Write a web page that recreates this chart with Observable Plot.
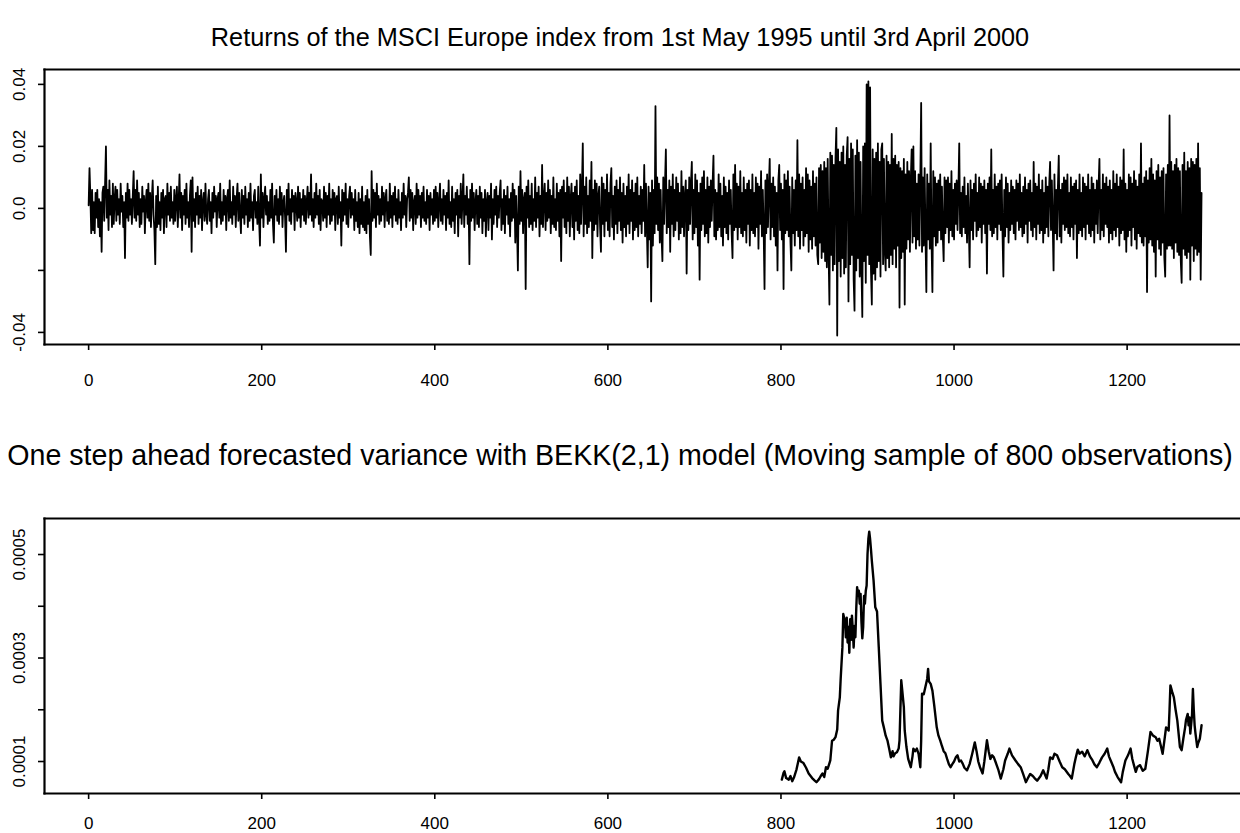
<!DOCTYPE html>
<html><head><meta charset="utf-8">
<script src="https://cdn.jsdelivr.net/npm/d3@7"></script>
<script src="https://cdn.jsdelivr.net/npm/@observablehq/plot@0.6"></script>
<style>
html,body{margin:0;padding:0;background:#fff;width:1240px;height:833px;overflow:hidden;}
#wrap{position:relative;width:1240px;height:833px;font-family:"Liberation Sans",Arial,Helvetica,sans-serif;}
.title{position:absolute;left:0;width:1240px;text-align:center;color:#000;white-space:nowrap;z-index:2;line-height:30px;}
.panel{position:absolute;left:0;z-index:1;}
</style></head>
<body><div id="wrap">
<div class="panel" id="p1" style="top:0px"></div>
<div class="panel" id="p2" style="top:470px"></div>
<div class="title" id="t1" style="top:22px;font-size:25.3px">Returns of the MSCI Europe index from 1st May 1995 until 3rd April 2000</div>
<div class="title" id="t2" style="top:440px;font-size:28.6px">One step ahead forecasted variance with BEKK(2,1) model (Moving sample of 800 observations)</div>
</div>
<script>
// ---- Panel 1: daily returns, in thousandths (0.001), day index 0..1286 ----
const returnsX1000 = [
1,13,4,-8,6,-7,2,-8,5,-3, 6,-6,3,-9,2,-14,5,7,-4,8, 20,-3,6,-7,9,-2,4,-6,8,-5, 3,7,-4,6,-2,3,-5,8,-1,4, -6,2,-16,5,-3,8,-4,6,-2,3,
-5,4,12,-3,6,-4,9,-2,5,-6, 3,-5,7,-1,4,-8,2,6,-3,8, -4,5,-6,3,9,-2,-7,-18,4,-6, 7,-5,2,-7,5,-3,6,-8,3,4, -6,8,-2,5,-4,7,-3,2,-5,6,
-4,3,7,-6,2,11,-3,5,-7,4, -2,6,-5,8,-3,2,-6,4,9,-14, 10,-4,3,-6,5,-2,7,-5,4,-3, 6,-7,2,5,-4,8,-2,-5,3,6, -4,2,-8,5,-3,7,-1,4,-6,3,
5,-3,8,-5,2,-4,6,-2,4,-7, 3,6,-4,9,-3,2,-5,7,-2,4, -6,3,8,-4,5,-2,-8,6,-3,4, -5,7,-2,3,-6,5,-4,8,-3,2, -7,4,6,-3,2,-5,7,-4,-12,11,
-3,5,-6,3,7,-2,4,-5,2,-4, 6,-3,8,-5,-11,4,-2,6,-4,3, -5,7,-2,5,-6,2,4,-3,-14,6, -2,8,-4,3,-5,6,-1,4,-7,5, 2,-4,7,-3,5,-6,3,-2,6,-4,
4,-5,2,7,-3,5,-2,11,-4,3, -6,5,-3,8,-2,4,-5,6,-7,3, 2,-4,7,-3,5,-6,4,-2,8,-5, 3,-4,6,-2,5,-7,3,4,-5,7, -3,2,-12,6,-4,5,-2,8,-5,3,
-6,4,7,-3,5,-2,3,-7,6,-4, 2,-6,5,-8,3,-5,7,-6,2,-7, 4,-8,6,-5,3,-9,-15,12,-4,6, -3,5,-6,8,-2,4,-5,3,-4,7, -2,5,-6,3,6,-4,2,-5,8,-3,
4,-6,5,-2,7,-4,3,-5,6,-3, 2,-7,5,-3,8,-2,4,-6,3,5, 10,-4,6,-3,5,-7,2,4,-5,8, -3,6,-2,4,-6,5,-3,7,-4,2, -5,6,-3,4,-7,5,-2,3,-5,6,
-4,7,-3,5,-6,2,8,-4,3,-5, 6,-2,4,-7,5,-3,9,-5,2,-6, 7,-4,3,-8,5,-2,6,-9,4,-3, 8,-5,3,11,-6,4,-2,7,-5,3, -18,6,-4,8,-3,5,-7,2,6,-5,
4,-6,7,-3,5,-8,3,-4,6,-9, 2,5,-7,4,-3,8,-10,3,-5,6, -2,7,-6,4,-3,5,9,-7,3,-5, 6,-8,4,-2,7,-5,3,-9,5,-4, 8,-3,6,-11,4,-6,-20,7,-5,12,
-4,6,-8,3,5,-26,7,-3,9,-6, 4,-5,8,-7,3,-4,10,-6,5,-3, 7,-9,4,-5,14,-6,3,8,-7,5, -4,9,-3,6,-8,4,-5,10,-6,3, -7,8,-4,5,-9,6,-17,7,-3,9,
-6,5,-8,10,-4,7,-9,3,8,-6, 5,-10,7,-4,9,-7,4,-8,11,-5, 6,21,-9,7,-5,10,-8,4,-6,9, -4,15,-16,6,-7,9,-5,8,-9,4, 7,-6,-14,10,-5,8,-9,6,-4,11,
-7,5,-9,8,13,-6,4,-10,7,-5, 9,-8,6,-4,10,-7,5,-11,8,-6, 4,-9,7,-5,11,-8,6,-4,9,-10, 5,-7,8,-6,10,-9,4,-5,7,-8, 6,-4,14,-9,8,-6,-19,7,-10,5,
-30,9,-12,6,-8,33,-5,10,-7,8, -11,6,-9,-17,10,-5,8,19,-8,6, -6,9,-14,7,-5,11,-9,6,-7,10, -4,8,-10,5,-8,12,-6,7,-9,4, 9,-21,6,-7,10,-5,8,15,-10,6,
-8,11,-6,9,-12,5,-23,8,-7,10, -5,12,-9,6,-8,10,-11,7,-6,9, -4,8,17,-9,6,-10,5,-7,11,-6, 8,-9,4,-12,10,-6,7,-8,5,-10, 9,-5,6,-8,-16,11,-7,14,-6,8,
-10,7,-6,12,-8,5,-9,10,-7,6, -11,8,-5,9,-12,6,-7,11,-8,5, -9,10,-6,8,-13,7,-5,12,-9,6, -7,-26,9,-8,11,-6,7,16,-10,8, -6,10,-9,7,-12,5,-20,9,14,-7,
8,-10,6,-26,11,-8,9,-7,12,-9, 7,-11,-20,10,-8,6,-12,9,-7,22, -9,11,-13,8,-7,10,-12,6,-9,13, -8,11,-14,9,-10,7,-13,12,-9,8, -12,10,-15,-18,13,-11,14,-16,12,-14,
15,-17,13,-19,16,-14,-31,18,-15,17, -20,14,-18,16,26,-41,19,-17,15,-22, 18,-16,20,-21,14,-19,17,23,-30,16, -18,21,-15,19,-23,-33,17,-20,22,-16, 18,-22,15,-19,-35,20,-17,21,-24,40,
-15,41,-18,39,-20,-31,19,-21,16,-23, 18,-19,21,-17,15,-22,19,21,-18,16, -14,-20,17,-16,15,-19,14,-15,24,-18, 16,-13,17,-19,14,-12,15,-32,13,-16, 12,-14,16,-31,11,-13,15,-10,12,-14,
9,19,-11,20,-9,12,-13,8,-10,11, -12,9,34,-14,10,-12,13,-9,-27,11, -10,8,-13,21,-11,-27,12,-9,10,-12, 8,-11,9,-7,11,-10,7,-9,-17,10, -8,9,-6,10,-11,8,-7,12,-9,6,
-10,8,-5,9,-7,6,21,-8,5,-9, 7,-6,10,-8,4,-11,8,-5,-19,9, -7,6,-10,8,-4,11,-9,5,-7,10, -6,8,-11,7,-5,9,-8,6,-21,8, -5,10,-7,19,-9,6,-8,11,-6,7,
-10,8,-5,9,-7,11,-8,-22,6,-9, 10,-6,8,-11,5,-7,9,-5,7,-8, 6,-10,9,-4,8,-7,11,-6,5,-9, 7,-8,10,-5,6,-11,8,-4,9,-7, 5,-9,15,-6,8,-10,7,-5,11,-8,
6,-7,9,-11,5,-8,10,-6,7,-9, 8,15,-7,9,-5,-20,11,-8,6,-10, 7,17,-9,6,-11,8,-5,10,-7,9, -6,11,-8,5,-9,10,-6,7,-10,8, -5,9,-16,6,-8,11,-7,5,-9,10,
-6,8,-10,7,-5,11,-8,6,-9,10, -7,8,-11,6,-5,9,-8,7,16,-10, 6,-7,11,-9,8,-5,10,-6,7,-11, 9,-8,6,-10,12,-7,8,-9,11,-6, 7,-12,10,-8,9,-7,19,-10,8,-14,
6,-9,11,-7,10,-12,8,-6,12,-10, 9,-13,7,-8,11,-9,21,-11,8,-12, 10,-9,12,-27,9,-11,13,-10,16,-12, 11,-14,9,-22,12,-10,14,-13,10,-15, 12,-11,13,-16,-22,11,-13,14,-12,30,
-12,15,-13,12,-16,14,-11,16,-14,13, -15,12,-17,-24,14,-13,18,-15,12,-16, 15,-14,13,-23,16,-12,15,-17,14,-13, 16,-15,21,-14,13,-23,5
];
const xTicks = [0, 200, 400, 600, 800, 1000, 1200];
const yTicks1 = [-0.04, -0.02, 0, 0.02, 0.04];
const yLabels1 = ["-0.04", "", "0.0", "0.02", "0.04"];

// ---- Panel 2: one-step-ahead forecasted variance (units of 1e-4), read at these days ----
const varDay = [801,803,804,806,809,811,813,815,818,821,823,826,829,832,836,839,841,844,846,848,850,852,854,857,859,861,863,865,866,868,869,871,872,874,875,876,877,878,879,880,881,882,883,884,885,886,887,888,889,890,891,892,893,894,895,896,897,898,899,900,901,902,903,904,905,907,909,911,913,915,917,919,921,923,925,927,929,930,932,934,936,937,938,939,940,942,943,945,947,950,952,953,955,957,959,961,962,963,965,967,969,970,971,973,975,977,980,982,984,986,988,990,992,994,996,998,1000,1002,1004,1006,1008,1010,1012,1015,1018,1021,1024,1026,1028,1030,1033,1035,1038,1040,1042,1044,1046,1048,1051,1054,1057,1059,1062,1064,1067,1071,1074,1077,1080,1083,1086,1088,1091,1093,1096,1100,1103,1105,1107,1109,1111,1114,1116,1119,1122,1125,1128,1132,1134,1136,1139,1141,1143,1145,1148,1151,1154,1157,1160,1162,1165,1168,1171,1174,1177,1179,1181,1184,1186,1189,1193,1195,1198,1201,1204,1206,1208,1210,1212,1215,1218,1221,1224,1227,1230,1233,1235,1237,1239,1241,1243,1245,1248,1249,1250,1252,1254,1256,1258,1260,1261,1263,1265,1267,1268,1270,1271,1272,1273,1275,1276,1277,1278,1279,1281,1282,1284,1286];
const varianceE4 = [0.65,0.78,0.81,0.68,0.65,0.72,0.62,0.69,0.85,1.08,1.00,0.97,0.88,0.77,0.68,0.63,0.60,0.66,0.72,0.77,0.70,0.89,0.86,1.02,1.40,1.42,1.47,1.62,1.99,2.24,2.60,3.21,3.85,3.70,3.40,3.78,3.30,3.60,3.10,3.75,3.35,3.82,3.55,3.20,3.62,3.40,3.95,4.37,4.20,4.30,4.05,4.24,3.70,3.38,3.60,4.20,4.05,4.30,4.40,5.00,5.30,5.44,5.30,5.10,4.88,4.50,3.98,3.90,3.21,2.50,1.79,1.65,1.50,1.41,1.25,1.08,1.20,1.10,1.16,1.18,1.25,1.41,2.00,2.57,2.40,2.05,1.60,1.28,1.05,0.89,1.10,1.25,1.20,1.25,1.15,0.89,1.40,2.31,2.30,2.45,2.60,2.79,2.55,2.50,2.37,2.10,1.66,1.50,1.41,1.30,1.20,1.16,1.05,0.95,0.89,0.95,1.00,1.08,1.12,1.00,1.02,0.96,0.88,0.83,0.95,1.15,1.37,1.20,1.00,0.89,0.77,1.00,1.41,1.20,1.05,1.12,1.08,0.99,0.85,0.67,0.85,1.02,1.15,1.25,1.12,1.02,0.95,0.89,0.75,0.60,0.70,0.76,0.72,0.68,0.63,0.72,0.83,0.75,0.67,0.85,1.08,1.05,1.15,1.12,1.00,0.89,0.85,0.76,0.72,0.67,0.95,1.10,1.23,1.15,1.19,1.10,1.22,1.10,1.02,0.95,0.89,0.98,1.08,1.15,1.25,1.10,1.02,0.90,0.80,0.70,0.60,0.80,1.02,1.12,1.25,1.05,0.92,0.80,0.90,0.93,0.82,0.86,1.20,1.57,1.50,1.47,1.40,1.44,1.30,1.15,1.40,1.66,1.60,2.00,2.47,2.35,2.24,2.00,1.79,1.45,1.28,1.22,1.45,1.66,1.80,1.92,1.70,1.85,1.54,1.90,2.40,2.00,1.70,1.54,1.28,1.35,1.44,1.70];
const yTicks2 = [0.0001, 0.0002, 0.0003, 0.0004, 0.0005];
const yLabels2 = ["0.0001", "", "0.0003", "", "0.0005"];

const returnsData = returnsX1000.map((v, i) => ({day: i, r: v / 1000}));
const varData = varDay.map((d, i) => ({day: d, v: varianceE4[i] * 1e-4}));

const font = "'Liberation Sans', Arial, Helvetica, sans-serif";
const xDomain = [-51, 1331];

function panel({data, yField, yDomain, yTicks, yLabels, height, marginTop, marginBottom, lineWidth, xPad}) {
  return Plot.plot({
    width: 1240, height, marginTop, marginBottom, marginLeft: 44, marginRight: 0,
    style: {fontFamily: font, fontSize: "17px", color: "#000", background: "transparent", overflow: "visible"},
    x: {domain: xDomain, label: null},
    y: {domain: yDomain, label: null},
    marks: [
      Plot.axisX(xTicks, {tickSize: 6, tickPadding: xPad, strokeWidth: 1.6, label: null, tickFormat: d => String(d)}),
      Plot.axisY(yTicks, {tickSize: 6, tickPadding: 19, strokeWidth: 1.6, label: null, tickRotate: -90, textAnchor: "middle", lineAnchor: "middle",
        tickFormat: d => yLabels[yTicks.indexOf(d)]}),
      Plot.line(data, {x: "day", y: yField, stroke: "#000", strokeWidth: lineWidth}),
      Plot.frame({anchor: "top", strokeWidth: 2.2}),
      Plot.frame({anchor: "bottom", strokeWidth: 2.2}),
      Plot.frame({anchor: "left", strokeWidth: 2.2})
    ]
  });
}

document.getElementById("p1").append(panel({
  data: returnsData, yField: "r", yDomain: [-0.0439, 0.0448], yTicks: yTicks1, yLabels: yLabels1,
  height: 400, marginTop: 69, marginBottom: 56, lineWidth: 1.8, xPad: 23
}));
document.getElementById("p2").append(panel({
  data: varData, yField: "v", yDomain: [0.0000382, 0.0005696], yTicks: yTicks2, yLabels: yLabels2,
  height: 363, marginTop: 48, marginBottom: 40, lineWidth: 2.4, xPad: 17
}));
</script>
</body></html>
